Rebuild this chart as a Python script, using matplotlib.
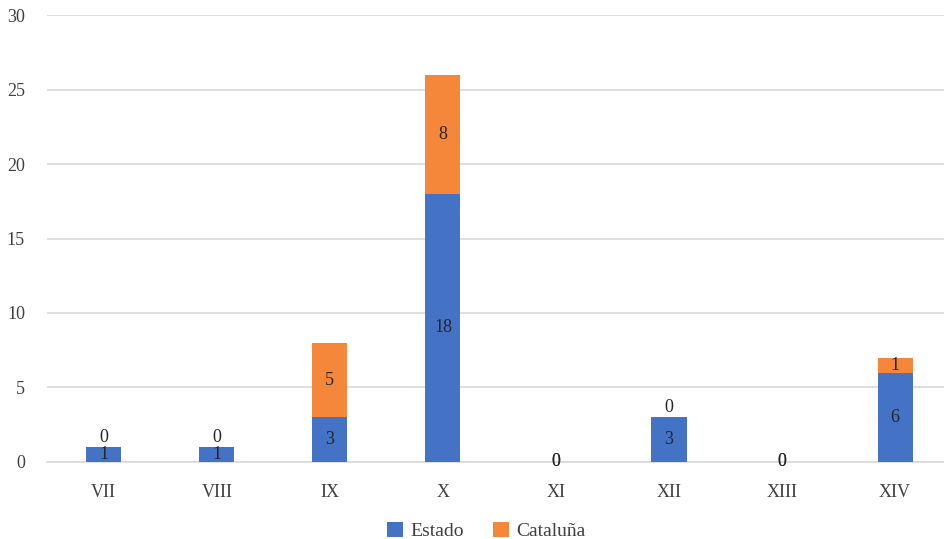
import matplotlib.pyplot as plt
import numpy as np

categories = ['VII', 'VIII', 'IX', 'X', 'XI', 'XII', 'XIII', 'XIV']
estado = [1, 1, 3, 18, 0, 3, 0, 6]
cataluna = [0, 0, 5, 8, 0, 0, 0, 1]

blue = '#4472C4'
orange = '#F4873A'
plt.rcParams['font.family'] = ['Liberation Serif', 'DejaVu Serif']

fig = plt.figure(figsize=(9.45, 5.39), dpi=100)
ax = fig.add_axes([0.05, 0.143, 0.957, 0.829])

x = np.arange(len(categories))
w = 0.31
ax.bar(x, estado, w, color=blue, label='Estado', zorder=3)
ax.bar(x, cataluna, w, bottom=estado, color=orange, label='Cataluña', zorder=3)

# segment value labels, centred in each piece of the stack
for i in range(len(categories)):
    ax.text(x[i], estado[i] / 2, str(estado[i]), ha='center', va='center',
            fontsize=13, color='#262626', zorder=4)
    if cataluna[i] == 0 and estado[i] > 0:
        # empty top segment: put its label just above the bar
        ax.annotate(str(cataluna[i]), (x[i], estado[i]), xytext=(0, 1),
                    textcoords='offset points', ha='center', va='bottom',
                    fontsize=13, color='#262626', zorder=4)
    else:
        ax.text(x[i], estado[i] + cataluna[i] / 2, str(cataluna[i]),
                ha='center', va='center', fontsize=13, color='#262626', zorder=4)

ax.set_xlim(-0.5, len(categories) - 0.5)
ax.set_ylim(0, 30)
ax.set_yticks(range(0, 31, 5))
ax.yaxis.grid(True, color='#D9D9D9', linewidth=1.2, zorder=0)
ax.set_xticks(x)
ax.set_xticklabels(categories)
ax.tick_params(axis='both', length=0, labelsize=13, labelcolor='#404040')
ax.tick_params(axis='x', pad=16)
ax.tick_params(axis='y', pad=16)
for s in ['top', 'right', 'left']:
    ax.spines[s].set_visible(False)
ax.spines['bottom'].set_color('#D9D9D9')
ax.spines['bottom'].set_linewidth(1.2)

leg = fig.legend(loc='lower center', bbox_to_anchor=(0.515, -0.035), ncol=2,
                 frameon=False, fontsize=14, handlelength=0.8, handleheight=0.8,
                 columnspacing=1.5, handletextpad=0.4)
for t in leg.get_texts():
    t.set_color('#404040')

fig.savefig('out.png', dpi=100)
